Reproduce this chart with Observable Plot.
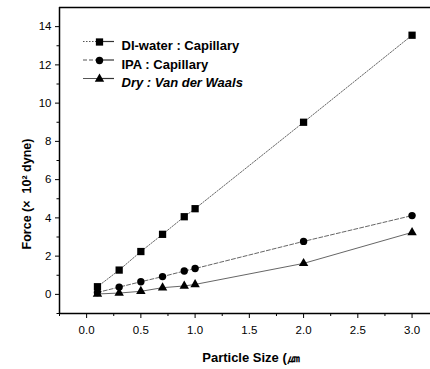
<!DOCTYPE html>
<html>
<head>
<meta charset="utf-8">
<script src="https://cdn.jsdelivr.net/npm/d3@7"></script>
<script src="https://cdn.jsdelivr.net/npm/@observablehq/plot@0.6"></script>
<style>
  html, body { margin: 0; padding: 0; background: #fff; }
  #chart svg { display: block; }
</style>
</head>
<body>
<div id="chart"></div>
<script>
const sizes = [0.1, 0.3, 0.5, 0.7, 0.9, 1.0, 2.0, 3.0];
const diWater = [0.40, 1.27, 2.24, 3.14, 4.06, 4.48, 9.00, 13.55];
const ipa = [0.10, 0.38, 0.66, 0.93, 1.22, 1.35, 2.77, 4.12];
const dry = [0.02, 0.07, 0.16, 0.35, 0.44, 0.52, 1.62, 3.24];
const seriesNames = ["DI-water : Capillary", "IPA : Capillary", "Dry : Van der Waals"];
const symbols = ["square", "circle", "triangle"];
const dashes = ["1.5,1.5", "4,2", null];
const xMajor = [0, 0.5, 1.0, 1.5, 2.0, 2.5, 3.0];
const xMinor = [-0.25, 0.25, 0.75, 1.25, 1.75, 2.25, 2.75];
const yMajor = [0, 2, 4, 6, 8, 10, 12, 14];
const yMinor = [-1, 1, 3, 5, 7, 9, 11, 13];
const xLabel = "Particle Size (㎛";
const yLabel = "Force (×  10² dyne)";

const allSeries = [diWater, ipa, dry];
const rows = [];
allSeries.forEach((vals, s) => vals.forEach((v, i) => rows.push({series: seriesNames[s], x: sizes[i], y: v})));
const radii = [4.1, 3.7, 3.5];

const marks = [];
marks.push(Plot.ruleX([-0.25], {stroke: "#000", strokeWidth: 1.5}));
marks.push(Plot.ruleY([-1], {stroke: "#000", strokeWidth: 1.5}));
marks.push(Plot.ruleY([15], {stroke: "#000", strokeWidth: 1.5}));
marks.push(Plot.axisX({ticks: xMajor, tickSize: 5, tickPadding: 7, tickFormat: d3.format(".1f"), fontSize: 11.5, label: null}));
marks.push(Plot.axisX({ticks: xMinor, tickSize: 3, text: null, label: null}));
marks.push(Plot.axisY({ticks: yMajor, tickSize: 4, tickPadding: 4, fontSize: 11.5, label: null}));
marks.push(Plot.axisY({ticks: yMinor, tickSize: 2.5, text: null, label: null}));
seriesNames.forEach((name, s) => {
  const data = rows.filter(d => d.series === name);
  marks.push(Plot.line(data, {x: "x", y: "y", stroke: "#666", strokeWidth: 1, strokeDasharray: dashes[s]}));
  marks.push(Plot.dot(data, {x: "x", y: "y", symbol: symbols[s], fill: "#000", stroke: "none", r: radii[s]}));
});
// legend
seriesNames.forEach((name, s) => {
  const dy = 34.5 + s * 18.5;
  marks.push(() => {
    const g = d3.create("svg:g");
    g.append("line").attr("x1", 83).attr("x2", 99).attr("y1", 7 + dy).attr("y2", 7 + dy)
      .attr("stroke", "#555").attr("stroke-width", 1).attr("stroke-dasharray", dashes[s]);
    g.append("line").attr("x1", 99).attr("x2", 114).attr("y1", 7 + dy).attr("y2", 7 + dy)
      .attr("stroke", "#333").attr("stroke-width", 1.2);
    return g.node();
  });
  marks.push(Plot.dot([name], {frameAnchor: "top-left", dx: 40, dy: dy, symbol: symbols[s], fill: "#000", stroke: "none", r: radii[s]}));
  marks.push(Plot.text([name], {frameAnchor: "top-left", dx: 62, dy: dy - 1, text: d => d, textAnchor: "start", fontSize: 13, fontWeight: "bold", fontStyle: s === 2 ? "italic" : "normal", fill: "#000"}));
});
// axis titles
marks.push(Plot.text([xLabel], {frameAnchor: "bottom", dx: 6, dy: 48, text: d => d, fontSize: 13, fontWeight: "bold", fill: "#000"}));
marks.push(() => {
  const g = d3.create("svg:g");
  g.append("text").attr("transform", "translate(28,194) rotate(-90)")
    .attr("text-anchor", "middle").attr("dominant-baseline", "middle")
    .attr("font-size", 12.5).attr("font-weight", "bold").attr("fill", "#000")
    .text(yLabel);
  return g.node();
});

const chart = Plot.plot({
  width: 430,
  height: 369,
  marginLeft: 59,
  marginTop: 7,
  marginBottom: 56,
  marginRight: 0,
  style: {fontFamily: "'Liberation Sans', Arial, sans-serif", color: "#000", background: "#fff"},
  x: {domain: [-0.25, 3.17]},
  y: {domain: [-1, 15]},
  marks
});
document.getElementById("chart").appendChild(chart);
</script>
</body>
</html>
